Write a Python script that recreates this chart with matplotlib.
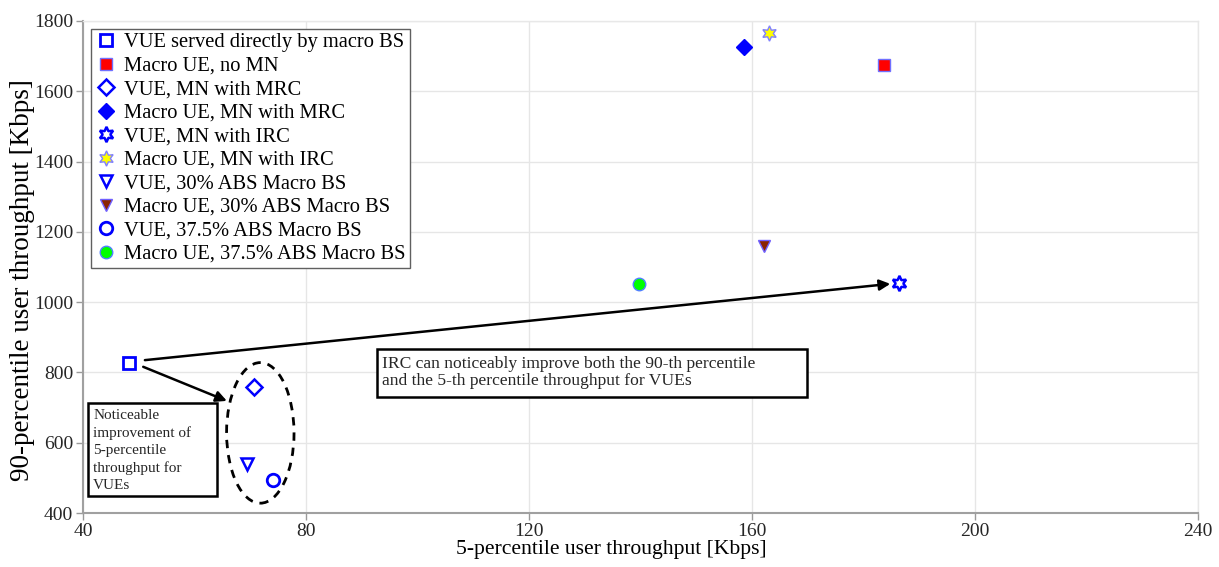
import matplotlib
matplotlib.use("Agg")
import matplotlib.pyplot as plt
from matplotlib.patches import Ellipse, Rectangle

plt.rcParams['font.family'] = ['Liberation Serif', 'DejaVu Serif']

# ---- data ----
labels = [
    "VUE served directly by macro BS",
    "Macro UE, no MN",
    "VUE, MN with MRC",
    "Macro UE, MN with MRC",
    "VUE, MN with IRC",
    "Macro UE, MN with IRC",
    "VUE, 30% ABS Macro BS",
    "Macro UE, 30% ABS Macro BS",
    "VUE, 37.5% ABS Macro BS",
    "Macro UE, 37.5% ABS Macro BS",
]
x_5pct = [48.3, 183.7, 70.7, 158.6, 186.4, 163.0, 69.4, 162.2, 74.0, 139.8]
y_90pct = [828, 1675, 758, 1726, 1054, 1766, 539, 1161, 494, 1052]

x_ticks = [40, 80, 120, 160, 200, 240]
y_ticks = [400, 600, 800, 1000, 1200, 1400, 1600, 1800]

# ---- styles ----
hexagram = (6, 1, 0)
markers = ['s', 's', 'D', 'D', hexagram, hexagram, 'v', 'v', 'o', 'o']
faces = ['none', '#ff0000', 'none', '#0000ff', 'none', '#ffff00', 'none', '#8b2500', 'none', '#00ff00']
edges = ['#0000ff', '#7070ff', '#0000ff', '#0000ff', '#0000ff', '#8080ff', '#0000ff', '#7060ff', '#0000ff', '#5080ff']
sizes = [8, 8, 8, 8, 11, 11, 9, 9, 9, 9]
ew = [2.0, 1.0, 1.8, 1.0, 1.8, 1.0, 1.8, 1.0, 2.0, 1.0]

fig = plt.figure(figsize=(12.19, 5.67), dpi=100)
ax = fig.add_axes([0.0681, 0.0952, 0.9147, 0.8678])

for i in range(len(labels)):
    ax.plot(x_5pct[i], y_90pct[i], linestyle='none', marker=markers[i],
            markersize=sizes[i], markerfacecolor=faces[i],
            markeredgecolor=edges[i], markeredgewidth=ew[i], label=labels[i], zorder=5)

ax.set_xlim(40, 240)
ax.set_ylim(400, 1800)
ax.set_xticks(x_ticks)
ax.set_yticks(y_ticks)
ax.tick_params(direction='out', length=5, width=1, color='#9a9a9a', labelsize=14,
               labelcolor='#262626', pad=2)
ax.grid(True, color='#e6e6e6', linewidth=1)
ax.set_axisbelow(True)
for s in ['left', 'bottom']:
    ax.spines[s].set_color('#a0a0a0')
    ax.spines[s].set_linewidth(1.5)
for s in ['top', 'right']:
    ax.spines[s].set_color('#e8e8e8')
    ax.spines[s].set_linewidth(1.0)

ax.set_xlabel("5-percentile user throughput [Kbps]", fontsize=15.6, labelpad=0)
ax.xaxis.set_label_coords(0.474, -0.055)
ax.set_ylabel("90-percentile user throughput [Kbps]", fontsize=19.5, labelpad=2)
ax.yaxis.set_label_coords(-0.043, 0.474)

leg = ax.legend(loc='upper left', bbox_to_anchor=(0.0072, 0.984), fontsize=14.8,
                frameon=True, fancybox=False, edgecolor='#606060', framealpha=1,
                handletextpad=0.3, borderpad=0.2, labelspacing=0.2,
                handlelength=1.1, borderaxespad=0)
leg.get_frame().set_linewidth(1.0)

# arrows
ax.annotate("", xy=(184.8, 1052), xytext=(51.1, 835),
            arrowprops=dict(arrowstyle='-|>', color='black', lw=1.8,
                            mutation_scale=16, shrinkA=0, shrinkB=0), zorder=4)
ax.annotate("", xy=(65.8, 719), xytext=(50.8, 816),
            arrowprops=dict(arrowstyle='-|>', color='black', lw=1.8,
                            mutation_scale=16, shrinkA=0, shrinkB=0), zorder=4)

# dashed ellipse
ell = Ellipse((71.8, 628), width=12.1, height=400, fill=False, edgecolor='black',
              linestyle=(0, (3, 2.5)), linewidth=2.0, zorder=4)
ax.add_patch(ell)

# text boxes
ax.add_patch(Rectangle((40.9, 448), 23.1, 265, facecolor='white', edgecolor='black',
                       linewidth=1.8, zorder=6))
ax.text(41.85, 697, "Noticeable\nimprovement of\n5-percentile\nthroughput for\nVUEs",
        fontsize=11, ha='left', va='top', linespacing=1.4, color='#262626', zorder=7)

ax.add_patch(Rectangle((92.7, 730), 77.1, 137, facecolor='white', edgecolor='black',
                       linewidth=1.8, zorder=6))
ax.text(93.7, 846, "IRC can noticeably improve both the 90-th percentile\nand the 5-th percentile throughput for VUEs",
        fontsize=12.6, ha='left', va='top', linespacing=1.1, color='#262626', zorder=7)

fig.savefig("out.png", dpi=100)
